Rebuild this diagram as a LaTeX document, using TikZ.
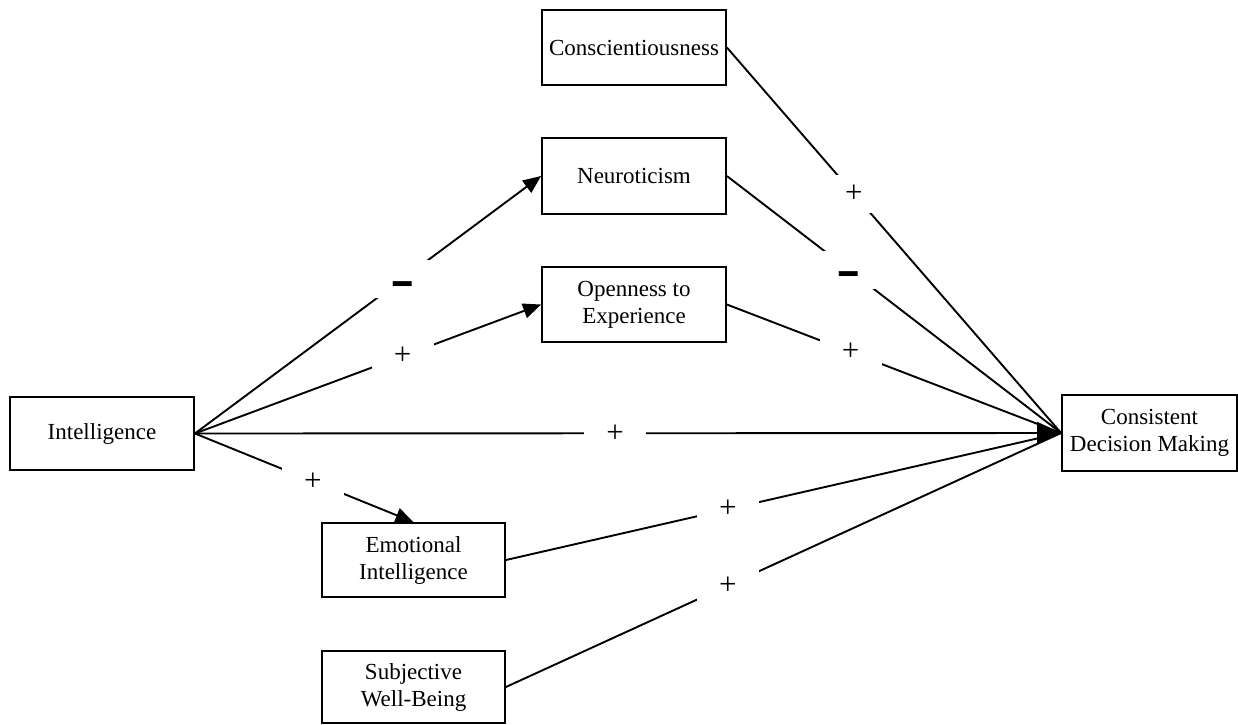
\documentclass[tikz,border=0pt]{standalone}
\usepackage{fontspec}
\usepackage{graphicx}
\setmainfont{Liberation Serif}
\usetikzlibrary{arrows.meta}
\newcommand{\minussign}{\raisebox{-21pt}[0pt][0pt]{\scalebox{1.15}[2.2]{–}}}
\begin{document}
\begin{tikzpicture}[x=1pt,y=-1pt,
  font=\fontsize{23}{27}\selectfont,
  box/.style={draw, line width=1.8pt, align=center, inner sep=0pt},
  link/.style={line width=1.9pt},
  smallarrow/.style={link, -{Triangle[length=18pt,width=15pt]}},
  bigarrow/.style={link, -{Triangle[length=24pt,width=22pt]}},
  sign/.style={fill=white, inner sep=0pt, minimum width=62pt, minimum height=38pt, font=\fontsize{31}{31}\selectfont},
  minus/.style={sign, font=\fontsize{32}{32}\selectfont\bfseries}]
\useasboundingbox (0,0) rectangle (1238,724);
\node[box, minimum width=184pt, minimum height=73pt] (intel) at (102,433.5) {Intelligence};
\node[box, minimum width=184pt, minimum height=75pt] (consc) at (634,47.5) {Conscientiousness};
\node[box, minimum width=184pt, minimum height=76pt] (neuro) at (634,176) {Neuroticism};
\node[box, minimum width=184pt, minimum height=75pt] (open) at (634,304.5) {Openness to\\Experience};
\node[box, minimum width=175pt, minimum height=76pt] (dec) at (1149.5,433) {Consistent\\Decision Making};
\node[box, minimum width=183pt, minimum height=74pt] (emo) at (413.5,560) {Emotional\\Intelligence};
\node[box, minimum width=183pt, minimum height=72pt] (swb) at (413.5,687) {Subjective\\Well-Being};

\draw[smallarrow] (intel.east) -- node[minus, pos=0.6] {\minussign} (neuro.west);
\draw[smallarrow] (intel.east) -- node[sign, pos=0.6] {+} (open.west);
\draw[smallarrow] (intel.east) -- node[sign, pos=0.54] {+} (emo.north);

\draw[link] (consc.east) -- node[sign, pos=0.38] {+} (dec.west);
\draw[link] (neuro.east) -- node[minus, pos=0.365] {\minussign} (dec.west);
\draw[link] (open.east) -- node[sign, pos=0.37] {+} (dec.west);
\draw[link] (emo.east) -- node[sign, pos=0.4] {+} (dec.west);
\draw[link] (swb.east) -- node[sign, pos=0.4] {+} (dec.west);
\draw[bigarrow] (intel.east) -- node[sign, pos=0.485] {+} (dec.west);
\end{tikzpicture}
\end{document}
